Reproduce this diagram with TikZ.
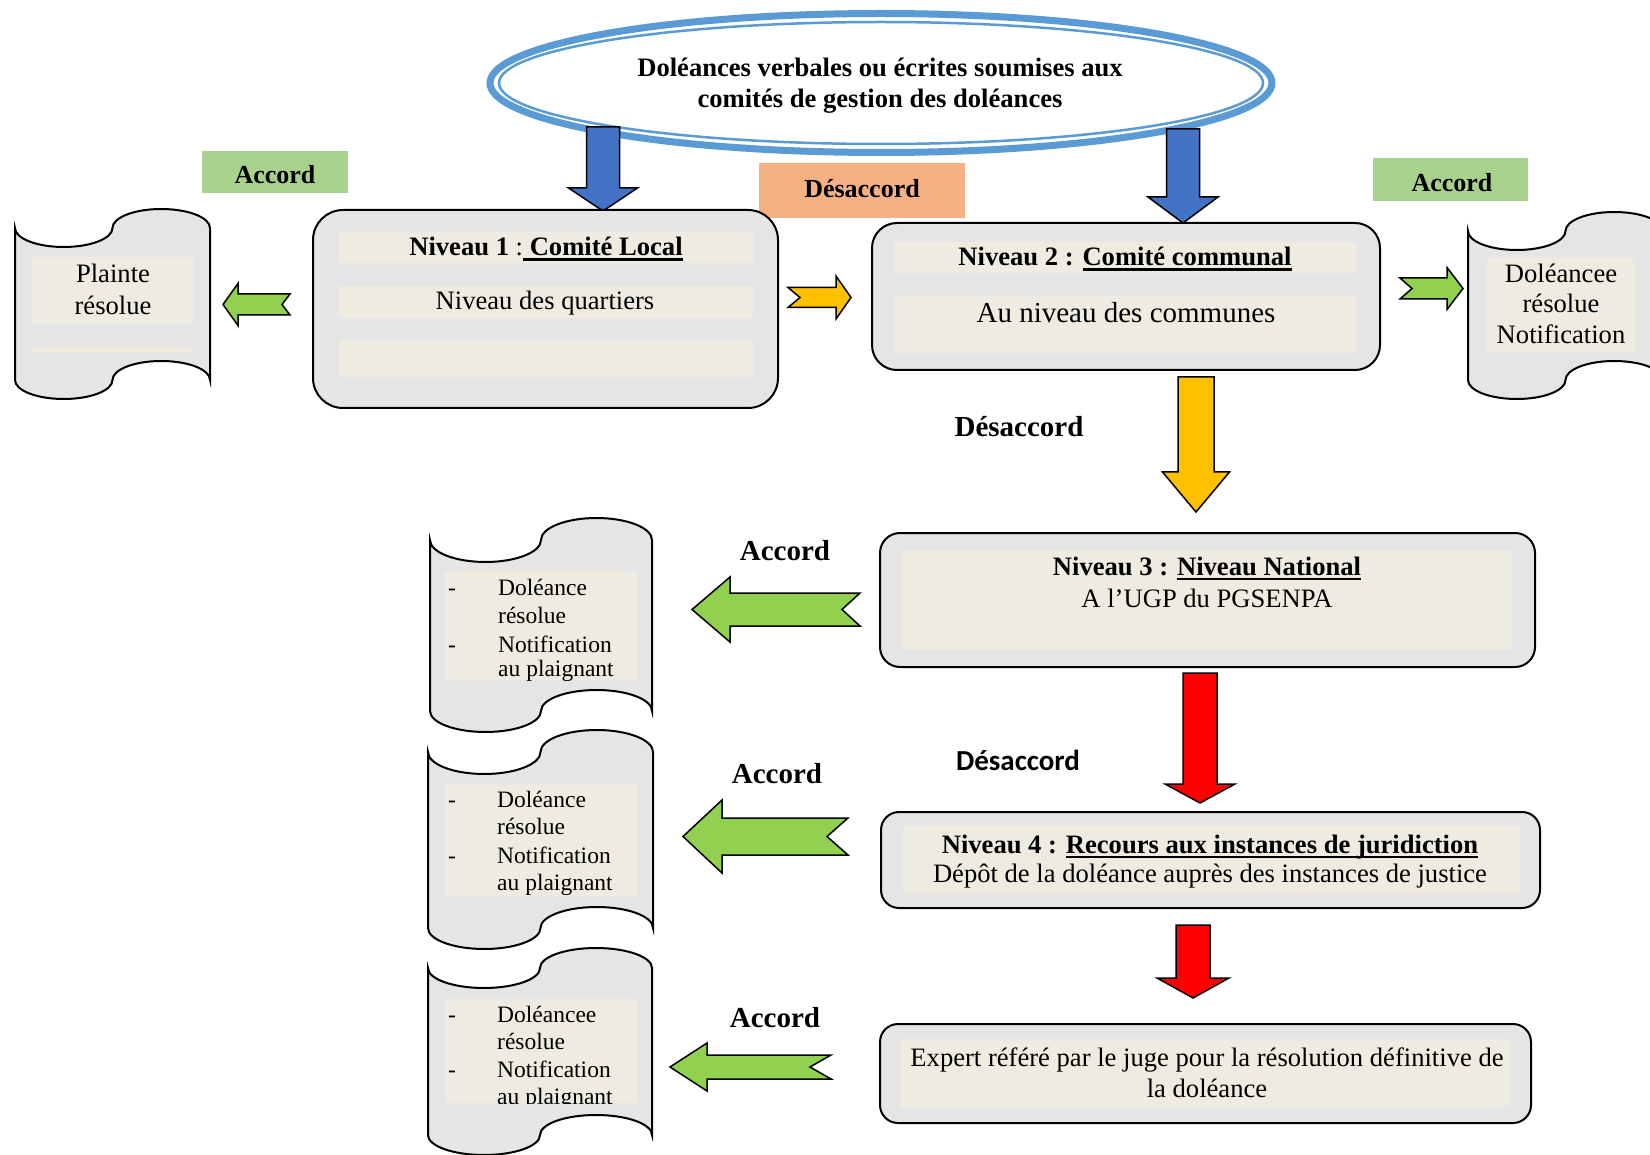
\documentclass[tikz,border=0pt]{standalone}
\usepackage{fontspec}
\setmainfont{Liberation Serif}
\newfontfamily\calfont{Carlito}
\definecolor{boxgray}{HTML}{E5E5E5}
\definecolor{stripbg}{HTML}{EEECE1}
\definecolor{accgreen}{HTML}{A9D18E}
\definecolor{desorange}{HTML}{F4B183}
\definecolor{ellblue}{HTML}{5B9BD5}
\definecolor{arrblue}{HTML}{4472C4}
\definecolor{arryellow}{HTML}{FFC000}
\definecolor{arrred}{HTML}{FF0000}
\definecolor{arrgreen}{HTML}{92D050}
\newsavebox\ulbox
\newcommand\ulb[1]{\sbox\ulbox{#1}\rlap{\rule[-5pt]{\wd\ulbox}{2.5pt}}\usebox\ulbox}
\newcommand\fA{\fontsize{26.6pt}{31pt}\selectfont}
\newcommand\fB{\fontsize{29pt}{34pt}\selectfont}
\newcommand\fC{\fontsize{23.5pt}{27pt}\selectfont}
\newcommand\fD{\fontsize{26pt}{30pt}\selectfont}
\tikzset{
  panel/.style={draw=black, line width=2pt, fill=boxgray, rounded corners=#1},
  panel/.default=20pt,
  band/.style={fill=stripbg},
  lbl/.style={inner sep=0pt, anchor=base, font=\fA},
  lst/.style={inner sep=0pt, anchor=base west, font=\fC},
  blk/.style={draw=black, line width=1.5pt, line join=miter},
  scrollst/.style={draw=black, line width=2pt, fill=boxgray},
}
% left-pointing notched block arrow
\newcommand\blkleft[7]{%
  \filldraw[blk, fill=arrgreen] (#1,#2) -- (#3,#2-#4) -- (#3,#2-#5) -- (#6,#2-#5) -- (#7,#2) -- (#6,#2+#5) -- (#3,#2+#5) -- (#3,#2+#4) -- cycle;}
% right-pointing notched block arrow
\newcommand\blkright[8]{%
  \filldraw[blk, fill=#8] (#1,#3-#7) -- (#4,#3-#7) -- (#4,#3-#6) -- (#5,#3) -- (#4,#3+#6) -- (#4,#3+#7) -- (#1,#3+#7) -- (#2,#3) -- cycle;}
% down block arrow
\newcommand\blkdown[7]{%
  \filldraw[blk, fill=#7] (#1-#3,#2) -- (#1+#3,#2) -- (#1+#3,#4) -- (#1+#5,#4) -- (#1,#6) -- (#1-#5,#4) -- (#1-#3,#4) -- cycle;}
% punched-tape scroll
\newcommand\scrollshape[6]{%
  \pgfmathsetmacro\scr{#2/4}%
  \filldraw[scrollst] (#1,#3)
     arc[start angle=180, end angle=360, x radius=\scr pt, y radius=#5pt]
     arc[start angle=180, end angle=0, x radius=\scr pt, y radius=#5pt]
     -- (#1+#2,#4)
     arc[start angle=0, end angle=180, x radius=\scr pt, y radius=#6pt]
     arc[start angle=360, end angle=180, x radius=\scr pt, y radius=#6pt]
     -- cycle;}
\begin{document}
\begin{tikzpicture}[x=1pt,y=-1pt]
\useasboundingbox (0,0) rectangle (1650,1155);
\fill[white] (0,0) rectangle (1650,1155);

% source ellipse
\fill[white] (881,83) ellipse [x radius=393pt, y radius=71pt];
\draw[ellblue, line width=7pt] (881,83) ellipse [x radius=391pt, y radius=69.5pt];
\draw[ellblue, line width=2.5pt] (881,83) ellipse [x radius=382pt, y radius=61pt];
\node[lbl] (e1) at (880,77) {\textbf{Doléances verbales ou écrites soumises aux}};
\node[lbl] (e2) at (880,108) {\textbf{comités de gestion des doléances}};

% blue arrows
\blkdown{603}{127}{16.5}{188}{34.5}{211}{arrblue}
\blkdown{1183}{129}{16.5}{197}{35}{223}{arrblue}

% labels in coloured boxes
\fill[accgreen] (202,151) rectangle (348,193);
\node[lbl, font=\fD] (acc1) at (275,184) {\textbf{Accord}};
\fill[desorange] (759,163) rectangle (965,218);
\node[lbl, font=\fD] (des1) at (862,198) {\textbf{Désaccord}};
\fill[accgreen] (1373,158) rectangle (1528,201);
\node[lbl, font=\fD] (acc2) at (1452,192) {\textbf{Accord}};

% Niveau 1
\draw[panel=30pt] (313,210) rectangle (778,408);
\fill[band] (339,232) rectangle (753,263);
\fill[band] (339,286) rectangle (753,318);
\fill[band] (339,341) rectangle (753,377);
\node[lbl] (n1a) at (546,256) {\textbf{Niveau 1} :\ulb{\textbf{ Comité Local}}};
\node[lbl] (n1b) at (545,310) {Niveau des quartiers};

% Niveau 2
\draw[panel=25pt] (872,223) rectangle (1380,370);
\fill[band] (894,242) rectangle (1356,273);
\fill[band] (894,296) rectangle (1356,353);
\node[lbl] (n2a) at (1125,266) {\textbf{Niveau 2 : \ulb{Comité communal}}};
\node[lbl, font=\fB] (n2b) at (1126,323) {Au niveau des communes};

% Niveau 3
\draw[panel=20pt] (880,533) rectangle (1535,667);
\fill[band] (902,550) rectangle (1512,650);
\node[lbl] (n3a) at (1207,575) {\textbf{Niveau 3 : \ulb{Niveau National}}};
\node[lbl] (n3b) at (1207,607) {A l’UGP du PGSENPA};

% Niveau 4
\draw[panel=18pt] (881,812) rectangle (1540,908);
\fill[band] (903,826) rectangle (1520,893);
\node[lbl] (n4a) at (1210,853) {\textbf{Niveau 4 : \ulb{Recours aux instances de juridiction}}};
\node[lbl] (n4b) at (1210,882) {Dépôt de la doléance auprès des instances de justice};

% Expert
\draw[panel=18pt] (880,1024) rectangle (1531,1123);
\fill[band] (901,1039) rectangle (1510,1107);
\node[lbl] (ex1) at (1207,1066) {Expert référé par le juge pour la résolution définitive de};
\node[lbl] (ex2) at (1207,1097) {la doléance};

% arrows between levels
\blkright{788}{800}{297.5}{836}{851}{21.5}{10}{arryellow}
\blkdown{1196}{377}{18}{472}{33.5}{512}{arryellow}
\blkdown{1200}{673}{17}{784}{35}{803}{arrred}
\blkdown{1193}{925}{17}{978}{36}{998}{arrred}

% Desaccord labels
\node[lbl, font=\fB] (des2) at (1019,437) {\textbf{Désaccord}};
\node[lbl, font=\fB] (des3) at (1018,770) {\calfont\bfseries Désaccord};

% Accord arrows
\blkleft{223}{304.5}{238}{21}{10.5}{290}{282}
\blkright{1400}{1412}{288.5}{1447}{1463}{21}{10.5}{arrgreen}
\blkleft{692}{609.5}{730}{32.5}{16.5}{860}{842}
\blkleft{683}{836.5}{722}{36.5}{18.5}{848}{827}
\blkleft{670}{1067}{707}{24}{12}{831}{810}
\node[lbl, font=\fB] (acc3) at (785,560) {\textbf{Accord}};
\node[lbl, font=\fB] (acc4) at (777,783) {\textbf{Accord}};
\node[lbl, font=\fB] (acc5) at (775,1027) {\textbf{Accord}};

% left scroll
\scrollshape{15}{195}{228}{380}{19}{19}
\fill[band] (32,257) rectangle (193,324);
\fill[band] (32,347) rectangle (193,352);
\node[lbl] (s1a) at (113,283) {Plainte};
\node[lbl] (s1b) at (113,315) {résolue};

% right scroll
\scrollshape{1468}{195}{231}{380}{19}{19}
\fill[band] (1487,258) rectangle (1635,352);
\node[lbl] (s2a) at (1561,283) {Doléancee};
\node[lbl] (s2b) at (1561,313) {résolue};
\node[lbl] (s2c) at (1561,344) {Notification};

% scroll 3
\scrollshape{430}{222}{540}{711}{22}{21}
\fill[band] (445,571) rectangle (637,680);
\begin{scope}
\clip (445,571) rectangle (637,680);
\node[lst] (s3d1) at (448,595) {-};
\node[lst] (s3a) at (498,595) {Doléance};
\node[lst] (s3b) at (498,623) {résolue};
\node[lst] (s3d2) at (448,652) {-};
\node[lst] (s3c) at (498,652) {Notification};
\node[lst] (s3e) at (498,676) {au plaignant};
\end{scope}

% scroll 4
\scrollshape{428}{225}{752}{928}{22}{21}
\fill[band] (445,784) rectangle (637,896);
\begin{scope}
\clip (445,784) rectangle (637,896);
\node[lst] (s4d1) at (448,807) {-};
\node[lst] (s4a) at (497,807) {Doléance};
\node[lst] (s4b) at (497,834) {résolue};
\node[lst] (s4d2) at (448,863) {-};
\node[lst] (s4c) at (497,863) {Notification};
\node[lst] (s4e) at (497,890) {au plaignant};
\end{scope}

% scroll 5
\scrollshape{428}{224}{968}{1135}{20}{20}
\fill[band] (445,999) rectangle (637,1103);
\begin{scope}
\clip (445,999) rectangle (637,1103);
\node[lst] (s5d1) at (448,1022) {-};
\node[lst] (s5a) at (497,1022) {Doléancee};
\node[lst] (s5b) at (497,1049) {résolue};
\node[lst] (s5d2) at (448,1077) {-};
\node[lst] (s5c) at (497,1077) {Notification};
\node[lst] (s5e) at (497,1104) {au plaignant};
\end{scope}
\end{tikzpicture}
\end{document}
